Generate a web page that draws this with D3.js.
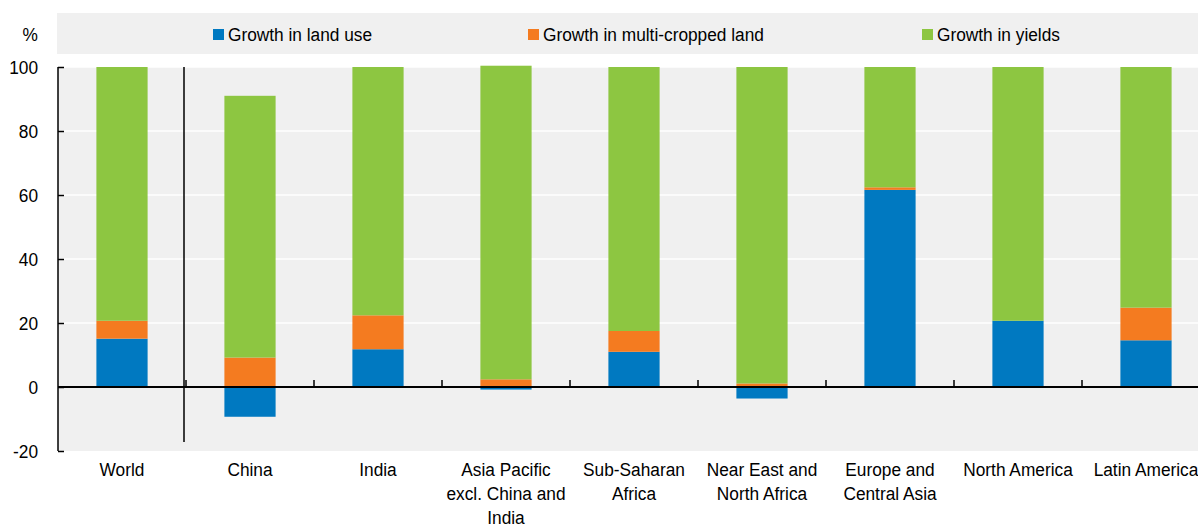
<!DOCTYPE html>
<html><head><meta charset="utf-8">
<script src="https://cdn.jsdelivr.net/npm/d3@7"></script>
<style>
body{margin:0;background:#fff;}
svg text{font-family:"Liberation Sans Narrow","Arial Narrow","Liberation Sans",Arial,sans-serif;fill:#000;}
</style></head><body>
<svg id="c" width="1198" height="526"></svg>
<script>
const categories = [
  ["World"], ["China"], ["India"], ["Asia Pacific","excl. China and","India"],
  ["Sub-Saharan","Africa"], ["Near East and","North Africa"], ["Europe and","Central Asia"],
  ["North America"], ["Latin America"]
];
const seriesNames = ["Growth in land use","Growth in multi-cropped land","Growth in yields"];
const landUse   = [15.1, -9.3, 11.8, -0.8, 11.0, -3.6, 61.6, 20.7, 14.6];
const multiCrop = [5.6, 9.2, 10.6, 2.4, 6.5, 1.1, 0.8, 0, 10.2];
const yields    = [79.3, 81.8, 77.6, 98.0, 82.5, 98.9, 37.6, 79.3, 75.2];
const yTicks = [-20, 0, 20, 40, 60, 80, 100];
const colors = ["#0079C1", "#F47B20", "#8DC641"];

(function(){
const svg = d3.select("#c");
const SX = 0.91, FS = 19;
function txt(x, yy, anchor, lines, lh) {
  const t = svg.append("text").attr("transform", `translate(${x},${yy}) scale(${SX},1)`)
    .attr("text-anchor", anchor).attr("font-size", FS);
  lines.forEach((l, k) => t.append("tspan").attr("x", 0).attr("dy", k ? lh : 0).text(l));
  return t;
}
const pL = 58, pR = 1210, pT = 67, pB = 451;
const x = d3.scaleBand().domain(d3.range(categories.length)).range([pL, pR]).paddingInner(0.6).paddingOuter(0.3);
const y = d3.scaleLinear().domain([-20, 100]).range([pB, pT]);

// legend band
svg.append("rect").attr("x", 57).attr("y", 13).attr("width", 1141).attr("height", 41).attr("fill", "#f0f0f0");
const legX = [213, 528, 922];
seriesNames.forEach((n, i) => {
  svg.append("rect").attr("x", legX[i]).attr("y", 29).attr("width", 11).attr("height", 11).attr("fill", colors[i]);
  txt(legX[i] + 15, 40.5, "start", [n]);
});
txt(38, 40.5, "end", ["%"]);

// plot bg
svg.append("rect").attr("x", pL).attr("y", pT).attr("width", 1198 - pL).attr("height", pB - pT).attr("fill", "#f0f0f0");

// gridlines
svg.append("g").selectAll("line").data(yTicks.filter(t => t > 0)).join("line")
  .attr("x1", pL).attr("x2", 1198).attr("y1", d => y(d)).attr("y2", d => y(d))
  .attr("stroke", "#fff").attr("stroke-width", 1.5);

// stacked bars
const rows = categories.map((c, i) => ({i, v: [landUse[i], multiCrop[i], yields[i]]}));
rows.forEach(r => {
  let pos = 0, neg = 0;
  r.v.forEach((v, s) => {
    let y0, y1;
    if (v >= 0) { y0 = pos; y1 = pos + v; pos = y1; } else { y0 = neg + v; y1 = neg; neg = y0; }
    if (v === 0) return;
    svg.append("rect").attr("x", x(r.i)).attr("width", x.bandwidth())
      .attr("y", y(y1)).attr("height", y(y0) - y(y1)).attr("fill", colors[s]);
  });
});

// y axis
const yAxis = d3.axisLeft(y).tickValues(yTicks).tickSize(-6).tickFormat(() => "");
const ga = svg.append("g").attr("transform", `translate(${pL},0)`).call(yAxis);
ga.select(".domain").attr("stroke", "#000").attr("stroke-width", 1.5).attr("d", `M0,${y(-20)}V${y(100)}`);
ga.selectAll(".tick line").attr("stroke", "#000").attr("stroke-width", 1.5);
yTicks.forEach(t => txt(38, y(t) + 6.5, "end", [String(t)]));

// x axis at 0
svg.append("line").attr("x1", pL).attr("x2", 1198).attr("y1", y(0)).attr("y2", y(0)).attr("stroke", "#000").attr("stroke-width", 2);
const step = x.step();
const sepXs = d3.range(1, categories.length).map(i => x(i) - (step - x.bandwidth()) / 2);
svg.append("g").selectAll("line").data(sepXs).join("line")
  .attr("x1", d => d).attr("x2", d => d).attr("y1", y(0)).attr("y2", y(0) - 7)
  .attr("stroke", "#000").attr("stroke-width", 1.5);
// separator between World and regions
svg.append("line").attr("x1", 184).attr("x2", 184).attr("y1", pT).attr("y2", 442).attr("stroke", "#000").attr("stroke-width", 1.5);

// category labels
categories.forEach((lines, i) => txt(x(i) + x.bandwidth() / 2, 476, "middle", lines, 24));
})();
</script></body></html>
